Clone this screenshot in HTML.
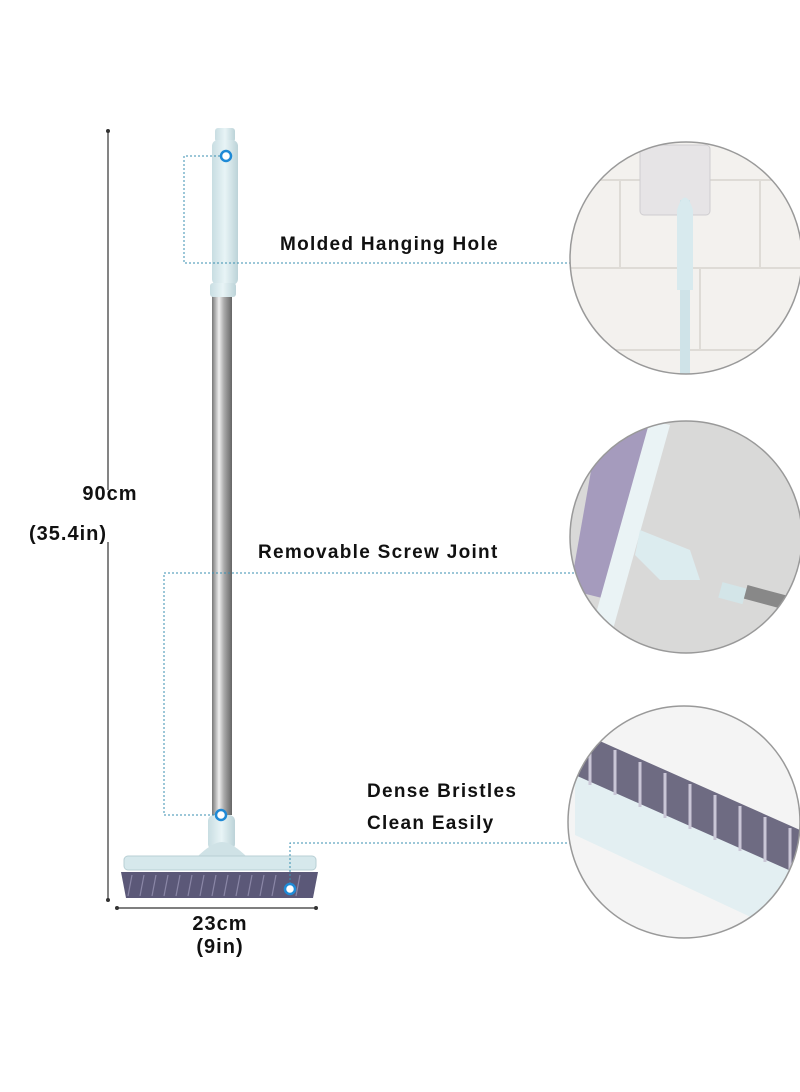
<!DOCTYPE html>
<html><head><meta charset="utf-8"><style>
html,body{margin:0;padding:0;background:#fff;width:800px;height:1092px;overflow:hidden}
svg{display:block}
text{font-family:"Liberation Sans",sans-serif;font-weight:bold;fill:#111}
</style></head><body>
<svg width="800" height="1092" viewBox="0 0 800 1092">
<defs>
<linearGradient id="pole" x1="0" x2="1"><stop offset="0" stop-color="#777"/><stop offset="0.35" stop-color="#eee"/><stop offset="0.6" stop-color="#aaa"/><stop offset="1" stop-color="#666"/></linearGradient>
<linearGradient id="hand" x1="0" x2="1"><stop offset="0" stop-color="#c8dde2"/><stop offset="0.5" stop-color="#e8f4f6"/><stop offset="1" stop-color="#bcd3d8"/></linearGradient>
<clipPath id="c1"><circle cx="686" cy="258" r="116"/></clipPath>
<clipPath id="c2"><circle cx="686" cy="537" r="116"/></clipPath>
<clipPath id="c3"><circle cx="684" cy="822" r="116"/></clipPath>
</defs>
<!-- vertical dimension -->
<line x1="108" y1="131" x2="108" y2="900" stroke="#333" stroke-width="1.2"/>
<circle cx="108" cy="131" r="2" fill="#333"/><circle cx="108" cy="900" r="2" fill="#333"/>
<rect x="80" y="490" width="60" height="52" fill="#fff"/>
<text x="110" y="500" font-size="20" text-anchor="middle" letter-spacing="1">90cm</text>
<text x="68" y="540" font-size="20" text-anchor="middle" letter-spacing="1">(35.4in)</text>
<!-- horizontal dimension -->
<line x1="117" y1="908" x2="316" y2="908" stroke="#333" stroke-width="1.2"/>
<circle cx="117" cy="908" r="2" fill="#333"/><circle cx="316" cy="908" r="2" fill="#333"/>
<text x="220" y="930" font-size="20" text-anchor="middle" letter-spacing="1">23cm</text>
<text x="220" y="953" font-size="20" text-anchor="middle" letter-spacing="1">(9in)</text>
<!-- pole -->
<rect x="212" y="290" width="20" height="525" fill="url(#pole)"/>
<!-- handle -->
<rect x="215" y="128" width="20" height="14" rx="3" fill="url(#hand)"/>
<rect x="212" y="140" width="26" height="145" rx="6" fill="url(#hand)"/>
<rect x="210" y="283" width="26" height="14" rx="3" fill="url(#hand)"/>
<!-- neck -->
<rect x="208" y="815" width="27" height="35" rx="6" fill="url(#hand)"/>
<path d="M196 858 Q212 842 222 842 Q232 842 248 858 Z" fill="#cfe2e6"/>
<rect x="124" y="856" width="192" height="14" rx="4" fill="#d6e8ec" stroke="#b8cfd4"/>
<path d="M121 872 L318 872 L313 898 L126 898 Z" fill="#5b5878"/>
<g stroke="#8a86a6" stroke-width="1.2">
<line x1="132" y1="875" x2="128" y2="896"/><line x1="144" y1="875" x2="140" y2="896"/><line x1="156" y1="875" x2="152" y2="896"/><line x1="168" y1="875" x2="164" y2="896"/><line x1="180" y1="875" x2="176" y2="896"/><line x1="192" y1="875" x2="188" y2="896"/><line x1="204" y1="875" x2="200" y2="896"/><line x1="216" y1="875" x2="212" y2="896"/><line x1="228" y1="875" x2="224" y2="896"/><line x1="240" y1="875" x2="236" y2="896"/><line x1="252" y1="875" x2="248" y2="896"/><line x1="264" y1="875" x2="260" y2="896"/><line x1="276" y1="875" x2="272" y2="896"/><line x1="300" y1="875" x2="296" y2="896"/>
</g>
<!-- connectors -->
<g fill="none" stroke="#3a8fb0" stroke-width="1" stroke-dasharray="2,2">
<polyline points="220,156 184,156 184,263 598,263"/>
<polyline points="214,815 164,815 164,573 598,573"/>
<polyline points="290,884 290,843 600,843"/>
</g>
<g fill="#fff" stroke="#1f8ad6" stroke-width="2.5">
<circle cx="226" cy="156" r="5"/><circle cx="221" cy="815" r="5"/><circle cx="290" cy="889" r="5"/>
</g>
<text x="280" y="250" font-size="19" letter-spacing="1.3">Molded Hanging Hole</text>
<text x="258" y="558" font-size="19" letter-spacing="1.3">Removable Screw Joint</text>
<text x="367" y="797" font-size="19" letter-spacing="1.3">Dense Bristles</text>
<text x="367" y="829" font-size="19" letter-spacing="1.3">Clean Easily</text>
<!-- circle 1 -->
<g clip-path="url(#c1)">
<rect x="560" y="130" width="250" height="260" fill="#f3f1ee"/>
<g stroke="#dedbd6" stroke-width="2"><line x1="560" y1="180" x2="810" y2="180"/><line x1="560" y1="268" x2="810" y2="268"/><line x1="560" y1="350" x2="810" y2="350"/><line x1="620" y1="180" x2="620" y2="268"/><line x1="760" y1="180" x2="760" y2="268"/><line x1="700" y1="268" x2="700" y2="350"/></g>
<rect x="640" y="145" width="70" height="70" rx="4" fill="#e6e4e6" stroke="#cfcdd0"/>
<path d="M680 200 L690 200 L690 380 L680 380 Z" fill="#cfe3e8"/>
<path d="M677 210 Q685 185 693 210 L693 290 L677 290 Z" fill="#d8eaee"/>
</g>
<circle cx="686" cy="258" r="116" fill="none" stroke="#999" stroke-width="1.5"/>
<!-- circle 2 -->
<g clip-path="url(#c2)">
<rect x="560" y="410" width="250" height="260" fill="#d9d9d8"/>
<path d="M600 420 L660 430 L610 600 L570 590 Z" fill="#a59bbd"/>
<path d="M650 420 L670 425 L610 640 L590 635 Z" fill="#eaf3f5"/>
<path d="M640 530 L690 550 L700 580 L660 580 L635 555 Z" fill="#dcecef"/>
<rect x="720" y="585" width="25" height="16" fill="#d3e5e8" transform="rotate(15 732 593)"/>
<rect x="745" y="590" width="40" height="14" fill="#888" transform="rotate(15 765 597)"/>
</g>
<circle cx="686" cy="537" r="116" fill="none" stroke="#999" stroke-width="1.5"/>
<!-- circle 3 -->
<g clip-path="url(#c3)">
<rect x="560" y="700" width="250" height="250" fill="#f4f4f4"/>
<path d="M575 730 L800 830 L800 900 L575 790 Z" fill="#6e6b82"/>
<path d="M575 775 L800 875 L800 940 L575 835 Z" fill="#e3eff2"/>
<g stroke="#c9c6d6" stroke-width="3">
<line x1="590" y1="740" x2="590" y2="785"/><line x1="615" y1="750" x2="615" y2="795"/><line x1="640" y1="762" x2="640" y2="807"/><line x1="665" y1="773" x2="665" y2="818"/><line x1="690" y1="784" x2="690" y2="829"/><line x1="715" y1="795" x2="715" y2="840"/><line x1="740" y1="806" x2="740" y2="851"/><line x1="765" y1="817" x2="765" y2="862"/><line x1="790" y1="828" x2="790" y2="873"/>
</g>
</g>
<circle cx="684" cy="822" r="116" fill="none" stroke="#999" stroke-width="1.5"/>
</svg>
</body></html>
